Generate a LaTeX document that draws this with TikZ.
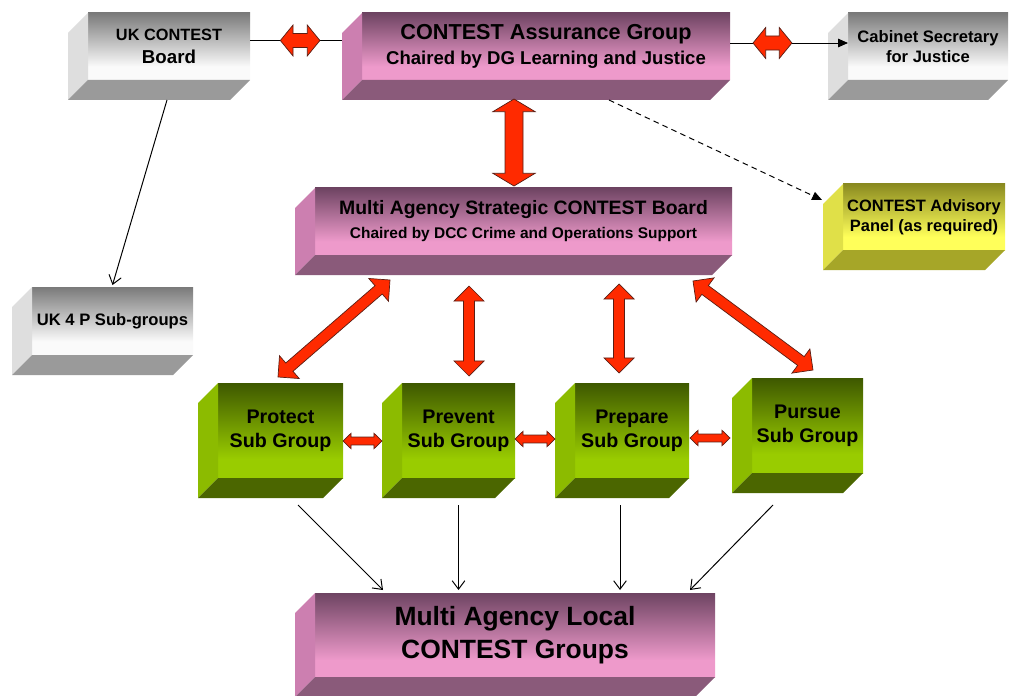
\documentclass[tikz,border=0pt]{standalone}
\usepackage{fontspec}
\setmainfont{Liberation Sans}
\usetikzlibrary{calc,arrows.meta}
\definecolor{grey top}{HTML}{7A7A7A}
\definecolor{grey bottom}{HTML}{FAFAFA}
\definecolor{grey left}{HTML}{DEDEDE}
\definecolor{grey base}{HTML}{9A9A9A}
\definecolor{pink top}{HTML}{6E4462}
\definecolor{pink bottom}{HTML}{EE9ACB}
\definecolor{pink left}{HTML}{CC7FB0}
\definecolor{pink base}{HTML}{8A5A7A}
\definecolor{green top}{HTML}{3E5800}
\definecolor{green bottom}{HTML}{99CC00}
\definecolor{green left}{HTML}{8CBB00}
\definecolor{green base}{HTML}{4B6600}
\definecolor{yellow top}{HTML}{8A8A20}
\definecolor{yellow bottom}{HTML}{FFFF5A}
\definecolor{yellow left}{HTML}{E0E048}
\definecolor{yellow base}{HTML}{A6A628}
\definecolor{arrow red}{HTML}{FF2A00}
\definecolor{arrow edge}{HTML}{5A1E14}
\pgfdeclareverticalshading{greyshade}{100bp}{color(0bp)=(grey bottom); color(35bp)=(grey bottom); color(75bp)=(grey top); color(100bp)=(grey top)}
\pgfdeclareverticalshading{pinkshade}{100bp}{color(0bp)=(pink bottom); color(35bp)=(pink bottom); color(75bp)=(pink top); color(100bp)=(pink top)}
\pgfdeclareverticalshading{greenshade}{100bp}{color(0bp)=(green bottom); color(35bp)=(green bottom); color(75bp)=(green top); color(100bp)=(green top)}
\pgfdeclareverticalshading{yellowshade}{100bp}{color(0bp)=(yellow bottom); color(35bp)=(yellow bottom); color(75bp)=(yellow top); color(100bp)=(yellow top)}
\newcommand{\fsz}[2]{\fontsize{#1}{#2}\selectfont\bfseries}
% red block arrow: from, to, shaft half width, head half width, head length
\newcommand{\redarrow}[5]{%
  \path (#1) coordinate (ra) (#2) coordinate (rb)
    ($(ra)!#5!(rb)$) coordinate (ra1) ($(rb)!#5!(ra)$) coordinate (rb1);
  \filldraw[block arrow] (ra) -- ($(ra1)!#4!90:(rb)$) -- ($(ra1)!#3!90:(rb)$)
    -- ($(rb1)!#3!90:(rb)$) -- ($(rb1)!#4!90:(rb)$) -- (rb)
    -- ($(rb1)!#4!-90:(rb)$) -- ($(rb1)!#3!-90:(rb)$)
    -- ($(ra1)!#3!-90:(rb)$) -- ($(ra1)!#4!-90:(rb)$) -- cycle;}
\tikzset{
  face/.style={shade, outer sep=0pt, inner sep=1pt, align=center},
  boxsize/.style 2 args={minimum width=#1*0.025cm, minimum height=#2*0.025cm},
  grey face/.style={face, shading=greyshade},
  pink face/.style={face, shading=pinkshade},
  green face/.style={face, shading=greenshade},
  yellow face/.style={face, shading=yellowshade},
  link/.style={line width=0.7pt},
  open link/.style={link, -{Straight Barb[length=6pt,width=9pt]}},
  tip link/.style={link, -{Triangle[length=7pt,width=6pt]}},
  block arrow/.style={fill=arrow red, draw=arrow edge, line width=0.5pt, line join=miter},
}
\begin{document}
\begin{tikzpicture}[x=0.025cm, y=-0.025cm]
  \useasboundingbox (0,0) rectangle (1009,696);
  % front faces
  \node[grey face, boxsize={162}{67}, font=\fsz{11.6}{16.4}] (ukb) at (169,46.5)
    {UK CONTEST\\{\fsz{13.3}{16.4}Board}};
  \node[pink face, boxsize={368}{67}, font=\fsz{15.4}{17.8}] (cag) at (546,46.5)
    {CONTEST Assurance Group\\{\fsz{13.2}{17.8}Chaired by DG Learning and Justice}};
  \node[grey face, boxsize={160}{67}, font=\fsz{11.8}{14.2}] (cab) at (928,46.5)
    {Cabinet Secretary\\for Justice};
  \node[pink face, boxsize={417}{67}, font=\fsz{13.8}{17}] (masb) at (523.5,221.5)
    {Multi Agency Strategic CONTEST Board\\{\fsz{11}{17}Chaired by DCC Crime and Operations Support}};
  \node[yellow face, boxsize={162}{66}, font=\fsz{11.7}{14.2}] (cap) at (924,217)
    {CONTEST Advisory\\Panel (as required)};
  \node[grey face, boxsize={161}{68}, font=\fsz{11.8}{14}] (uk4p) at (112.5,321)
    {UK 4 P Sub-groups};
  \node[green face, boxsize={125}{95}, font=\fsz{14}{17}] (protect) at (280.5,430.5)
    {Protect\\Sub Group};
  \node[green face, boxsize={113}{95}, font=\fsz{14}{17}] (prevent) at (458.5,430.5)
    {Prevent\\Sub Group};
  \node[green face, boxsize={114}{95}, font=\fsz{14}{17}] (prepare) at (632,430.5)
    {Prepare\\Sub Group};
  \node[green face, boxsize={111}{95}, font=\fsz{14}{17}] (pursue) at (807.5,425.5)
    {Pursue\\Sub Group};
  \node[pink face, boxsize={400}{84}, font=\fsz{18.8}{23.2}] (local) at (515,635)
    {Multi Agency Local\\CONTEST Groups};
  % left and bottom faces
  \foreach \b/\col in {ukb/grey, cag/pink, cab/grey, masb/pink, cap/yellow, uk4p/grey,
      protect/green, prevent/green, prepare/green, pursue/green, local/pink} {
    \fill[fill=\col\space left] (\b.north west) -- ++(-20,20)
      -- ($(\b.south west)+(-20,20)$) -- (\b.south west) -- cycle;
    \fill[fill=\col\space base] (\b.south west) -- (\b.south east) -- ++(-20,20)
      -- ($(\b.south west)+(-20,20)$) -- cycle;
  }
  % top row links
  \draw[link] ($(ukb.east)+(0,-6)$) coordinate (l1) -- ($(cag.west)+(-20,-6)$) coordinate (l2);
  \draw[tip link] ($(cag.east)+(0,-3.5)$) coordinate (r1) -- ($(cab.west)+(0,-3.5)$) coordinate (r2);
  \draw[tip link, dash pattern=on 4pt off 3pt] ($(cag.south)+(63,20)$) -- ($(cap.west)+(-21,-17)$);
  \draw[open link] ($(ukb.south)+(-2,20)$) -- ($(uk4p.north)+(0,-2)$);
  % down to the local groups
  \draw[open link] ($(protect.south)+(17.5,27)$) -- ($(local.north)+(-132,-3)$);
  \draw[open link] ($(prevent.south)+(0,27)$) -- ($(local.north)+(-56.5,-3)$);
  \draw[open link] ($(prepare.south)+(-12,27)$) -- ($(local.north)+(105,-3)$);
  \draw[open link] ($(pursue.south)+(-34.5,32)$) -- ($(local.north)+(175,-3)$);
  % red block arrows
  \redarrow{$(l1)!0.33!(l2)$}{$(l1)!0.76!(l2)$}{5pt}{11pt}{9pt}
  \redarrow{$(r1)!0.195!(r2)$}{$(r1)!0.525!(r2)$}{5pt}{11pt}{9pt}
  \redarrow{$(cag.south)+(-32,19)$}{$(masb.north)+(-9.5,-2)$}{6.4pt}{15pt}{9pt}
  \redarrow{$(masb.south)+(-133.5,25)$}{$(protect.north)+(-2.5,-6)$}{3.9pt}{10.7pt}{10.7pt}
  \redarrow{$(masb.south)+(-54.5,31)$}{$(prevent.north)+(10.5,-7)$}{3.9pt}{10.7pt}{10.7pt}
  \redarrow{$(masb.south)+(95.5,29)$}{$(prepare.north)+(-13,-10)$}{3.9pt}{10.7pt}{10.7pt}
  \redarrow{$(masb.south)+(169.5,26)$}{$(pursue.north)+(5.5,-8)$}{3.9pt}{10.7pt}{10.7pt}
  \redarrow{$(protect.east)+(0,10.5)$}{$(prevent.west)+(-20,10.5)$}{2.8pt}{5.5pt}{5.7pt}
  \redarrow{$(prevent.east)+(0,8.5)$}{$(prepare.west)+(-20,8.5)$}{2.8pt}{5.5pt}{5.7pt}
  \redarrow{$(prepare.east)+(1,7.5)$}{$(pursue.west)+(-22,12.5)$}{2.8pt}{5.5pt}{5.7pt}
\end{tikzpicture}
\end{document}
